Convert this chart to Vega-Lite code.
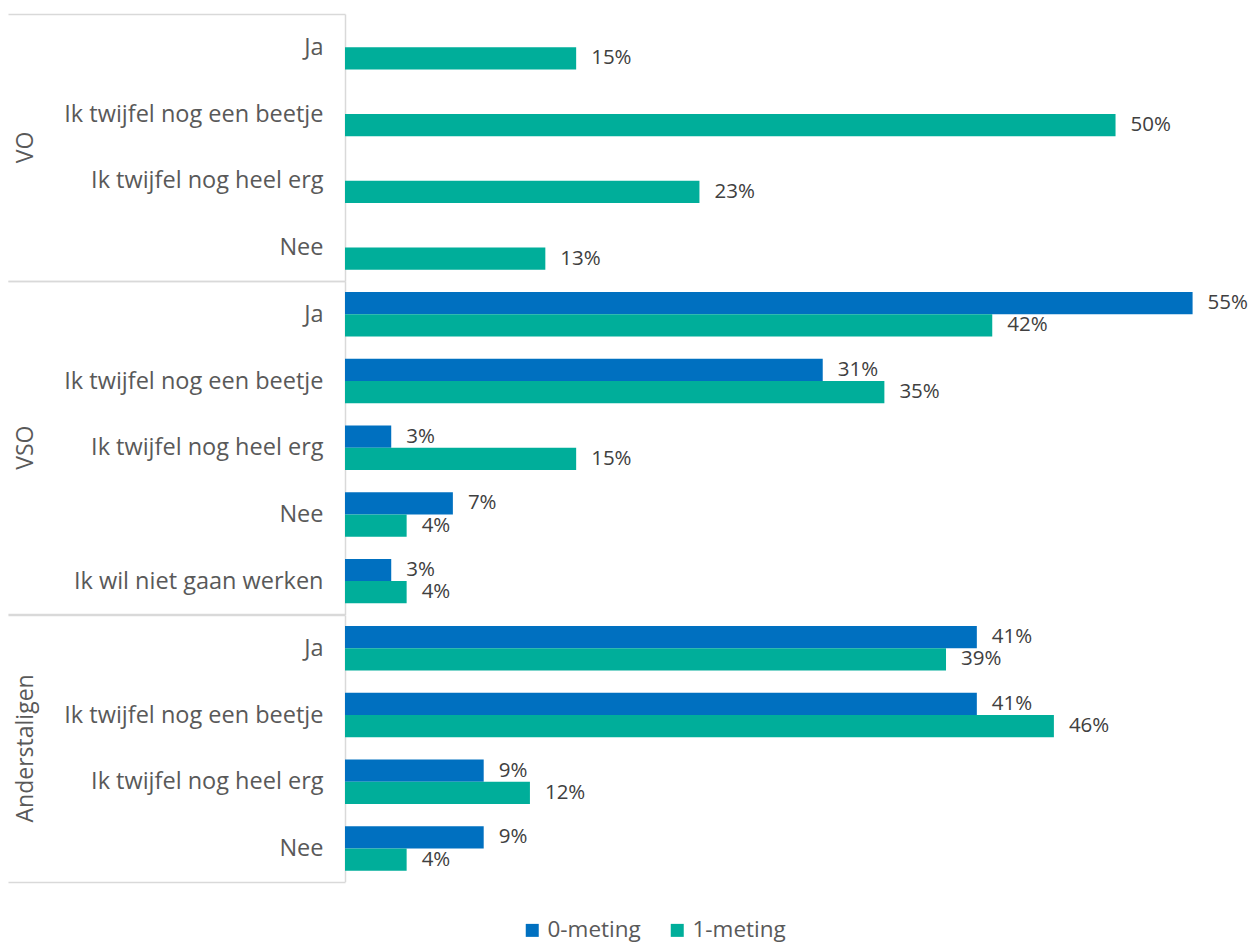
{
  "$schema": "https://vega.github.io/schema/vega-lite/v6.json",
  "padding": {"left": 7, "top": 2, "right": 0, "bottom": 0},
  "data": {"values": [
    {"group": "VO", "category": "Ja", "meting": "1-meting", "value": 0.15},
    {"group": "VO", "category": "Ik twijfel nog een beetje", "meting": "1-meting", "value": 0.50},
    {"group": "VO", "category": "Ik twijfel nog heel erg", "meting": "1-meting", "value": 0.23},
    {"group": "VO", "category": "Nee", "meting": "1-meting", "value": 0.13},
    {"group": "VSO", "category": "Ja", "meting": "0-meting", "value": 0.55},
    {"group": "VSO", "category": "Ja", "meting": "1-meting", "value": 0.42},
    {"group": "VSO", "category": "Ik twijfel nog een beetje", "meting": "0-meting", "value": 0.31},
    {"group": "VSO", "category": "Ik twijfel nog een beetje", "meting": "1-meting", "value": 0.35},
    {"group": "VSO", "category": "Ik twijfel nog heel erg", "meting": "0-meting", "value": 0.03},
    {"group": "VSO", "category": "Ik twijfel nog heel erg", "meting": "1-meting", "value": 0.15},
    {"group": "VSO", "category": "Nee", "meting": "0-meting", "value": 0.07},
    {"group": "VSO", "category": "Nee", "meting": "1-meting", "value": 0.04},
    {"group": "VSO", "category": "Ik wil niet gaan werken", "meting": "0-meting", "value": 0.03},
    {"group": "VSO", "category": "Ik wil niet gaan werken", "meting": "1-meting", "value": 0.04},
    {"group": "Anderstaligen", "category": "Ja", "meting": "0-meting", "value": 0.41},
    {"group": "Anderstaligen", "category": "Ja", "meting": "1-meting", "value": 0.39},
    {"group": "Anderstaligen", "category": "Ik twijfel nog een beetje", "meting": "0-meting", "value": 0.41},
    {"group": "Anderstaligen", "category": "Ik twijfel nog een beetje", "meting": "1-meting", "value": 0.46},
    {"group": "Anderstaligen", "category": "Ik twijfel nog heel erg", "meting": "0-meting", "value": 0.09},
    {"group": "Anderstaligen", "category": "Ik twijfel nog heel erg", "meting": "1-meting", "value": 0.12},
    {"group": "Anderstaligen", "category": "Nee", "meting": "0-meting", "value": 0.09},
    {"group": "Anderstaligen", "category": "Nee", "meting": "1-meting", "value": 0.04}
  ]},
  "facet": {
    "row": {
      "field": "group", "type": "nominal",
      "sort": ["VO", "VSO", "Anderstaligen"],
      "title": null,
      "header": {"labelAngle": -90, "labelOrient": "left", "labelFontSize": 23, "labelColor": "#595959", "labelFont": "Open Sans", "labelPadding": 296}
    }
  },
  "spacing": 0,
  "bounds": "flush",
  "resolve": {"scale": {"y": "independent"}},
  "spec": {
    "width": 863,
    "height": {"step": 22.23},
    "encoding": {
      "y": {
        "field": "category", "type": "nominal",
        "sort": ["Ja", "Ik twijfel nog een beetje", "Ik twijfel nog heel erg", "Nee", "Ik wil niet gaan werken"],
        "scale": {"paddingInner": 0, "paddingOuter": 0},
        "axis": {
          "title": null,
          "labelFontSize": 23.5, "labelColor": "#595959", "labelFont": "Open Sans", "labelLimit": 400,
          "domainColor": "#d9d9d9", "domainWidth": 1.5,
          "tickBand": "extent", "tickSize": 337, "tickWidth": 1.5,
          "tickColor": {"condition": {"test": "datum.index == 1 || datum.extra || datum.index < 0 || datum.index > 1", "value": "#d9d9d9"}, "value": "transparent"},
          "labelPadding": -315
        }
      },
      "yOffset": {"field": "meting", "type": "nominal", "scale": {"domain": ["0-meting", "1-meting"], "paddingInner": 0, "paddingOuter": 0.5}},
      "x": {"field": "value", "type": "quantitative", "scale": {"domain": [0, 0.56]}, "axis": null}
    },
    "layer": [
      {
        "mark": {"type": "bar"},
        "encoding": {
          "color": {
            "field": "meting", "type": "nominal",
            "scale": {"domain": ["0-meting", "1-meting"], "range": ["#0070C0", "#00AE9A"]},
            "legend": {"title": null, "orient": "none", "legendX": 176, "legendY": 905, "direction": "horizontal", "symbolType": "square", "symbolSize": 169, "labelFontSize": 22.5, "labelColor": "#595959", "labelFont": "Open Sans", "columnPadding": 25, "labelOffset": 4}
          }
        }
      },
      {
        "mark": {"type": "text", "align": "left", "baseline": "middle", "dx": 15, "fontSize": 20.5, "font": "Open Sans", "color": "#404040"},
        "encoding": {
          "text": {"field": "value", "type": "quantitative", "format": ".0%"}
        }
      }
    ]
  },
  "config": {"view": {"stroke": null}}
}
